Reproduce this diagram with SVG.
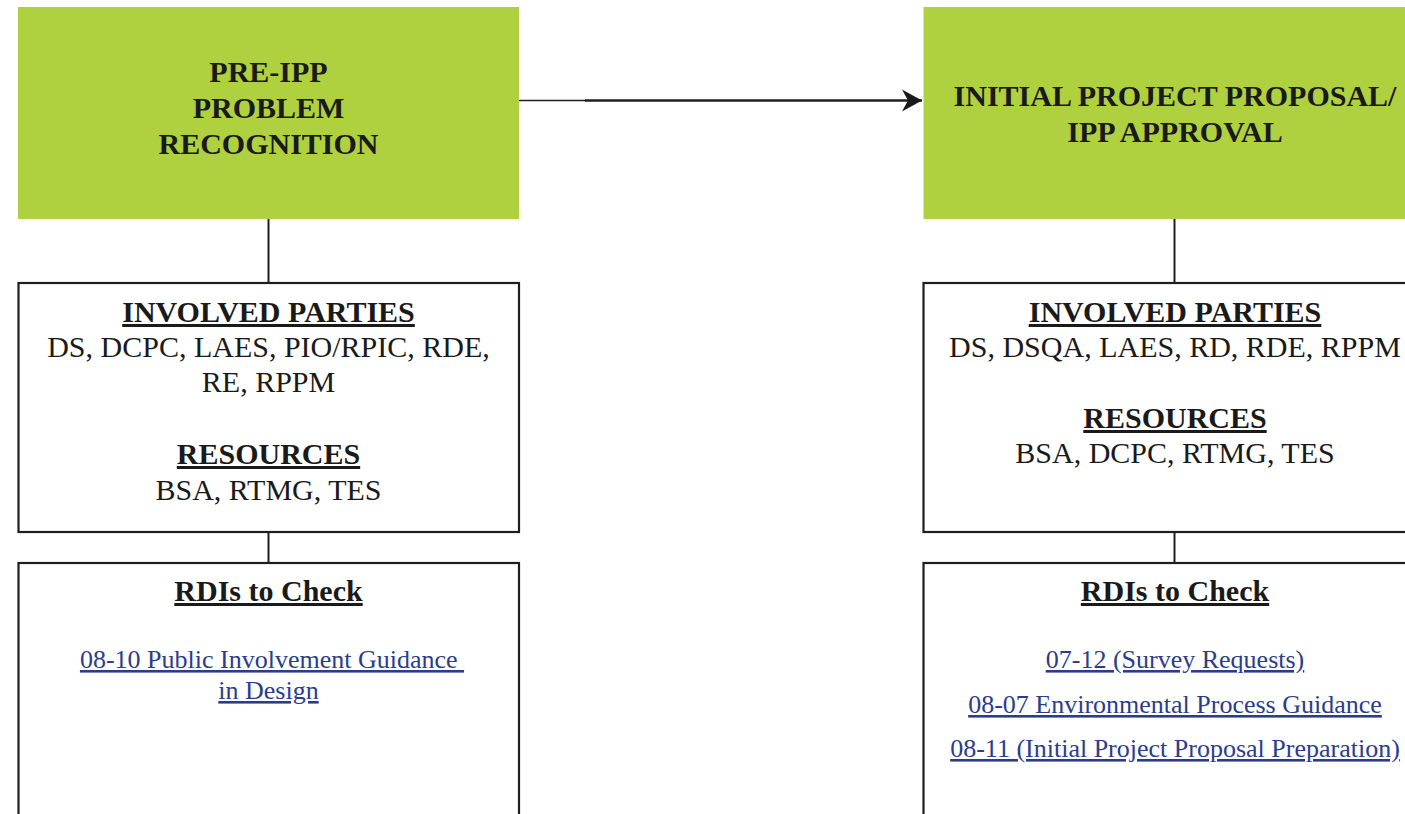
<svg xmlns="http://www.w3.org/2000/svg" width="1405" height="814" viewBox="0 0 1405 814">
<style>
.green{fill:#afd03f;stroke:none}
.box{fill:#ffffff;stroke:#1e1e1e;stroke-width:2.2}
.t{font-family:"Liberation Serif","Times New Roman",serif;fill:#1a1a1a;text-anchor:middle}
.b{font-weight:bold;font-size:30px}
.r{font-size:30px}
.u{text-decoration:underline}
.lk{font-family:"Liberation Serif","Times New Roman",serif;font-size:26px;fill:#2b3c8e;text-anchor:middle;text-decoration:underline}
.c{stroke:#1e1e1e;fill:none}
</style>
<defs>
<marker id="ah" markerUnits="userSpaceOnUse" markerWidth="24" markerHeight="26" refX="20" refY="12" orient="auto">
<path d="M0,1 L20,12 L0,23 L6,12 Z" fill="#1a1a1a"/>
</marker>
</defs>
<rect width="1405" height="814" fill="#ffffff"/>
<g id="connectors">
<line class="c" x1="519" y1="100.5" x2="586" y2="100.5" stroke-width="1.6"/>
<line class="c" x1="585" y1="100.5" x2="922" y2="100.5" stroke-width="2.6" marker-end="url(#ah)"/>
<line class="c" x1="268.5" y1="218" x2="268.5" y2="283" stroke-width="2"/>
<line class="c" x1="268.5" y1="532" x2="268.5" y2="563" stroke-width="2"/>
<line class="c" x1="1174.5" y1="218" x2="1174.5" y2="283" stroke-width="2"/>
<line class="c" x1="1174.5" y1="532" x2="1174.5" y2="563" stroke-width="2"/>
</g>
<g id="node-pre-ipp">
<rect class="green" x="18" y="7" width="501" height="212"/>
<text class="t b" x="268.5" y="82">PRE-IPP</text>
<text class="t b" x="268.5" y="118">PROBLEM</text>
<text class="t b" x="268.5" y="154">RECOGNITION</text>
</g>
<g id="node-ipp-approval">
<rect class="green" x="923.5" y="7" width="502" height="212"/>
<text class="t b" x="1175" y="106">INITIAL PROJECT PROPOSAL/</text>
<text class="t b" x="1175" y="142">IPP APPROVAL</text>
</g>
<g id="node-left-parties">
<rect class="box" x="18.5" y="283" width="500.5" height="249"/>
<text class="t b u" x="268.5" y="322">INVOLVED PARTIES</text>
<text class="t r" x="268.5" y="357">DS, DCPC, LAES, PIO/RPIC, RDE,</text>
<text class="t r" x="268.5" y="392">RE, RPPM</text>
<text class="t b u" x="268.5" y="464">RESOURCES</text>
<text class="t r" x="268.5" y="500">BSA, RTMG, TES</text>
</g>
<g id="node-right-parties">
<rect class="box" x="923.5" y="283" width="502" height="249"/>
<text class="t b u" x="1175" y="322">INVOLVED PARTIES</text>
<text class="t r" x="1175" y="357">DS, DSQA, LAES, RD, RDE, RPPM</text>
<text class="t b u" x="1175" y="428">RESOURCES</text>
<text class="t r" x="1175" y="463">BSA, DCPC, RTMG, TES</text>
</g>
<g id="node-left-rdis">
<rect class="box" x="18.5" y="563" width="500.5" height="270"/>
<text class="t b u" x="268.5" y="601">RDIs to Check</text>
<text class="lk" x="272" y="668">08-10 Public Involvement Guidance&#160;</text>
<text class="lk" x="268.5" y="699">in Design</text>
</g>
<g id="node-right-rdis">
<rect class="box" x="923.5" y="563" width="502" height="270"/>
<text class="t b u" x="1175" y="601">RDIs to Check</text>
<text class="lk" x="1175" y="668">07-12 (Survey Requests)</text>
<text class="lk" x="1175" y="713">08-07 Environmental Process Guidance</text>
<text class="lk" x="1175" y="757">08-11 (Initial Project Proposal Preparation)</text>
</g>
</svg>
